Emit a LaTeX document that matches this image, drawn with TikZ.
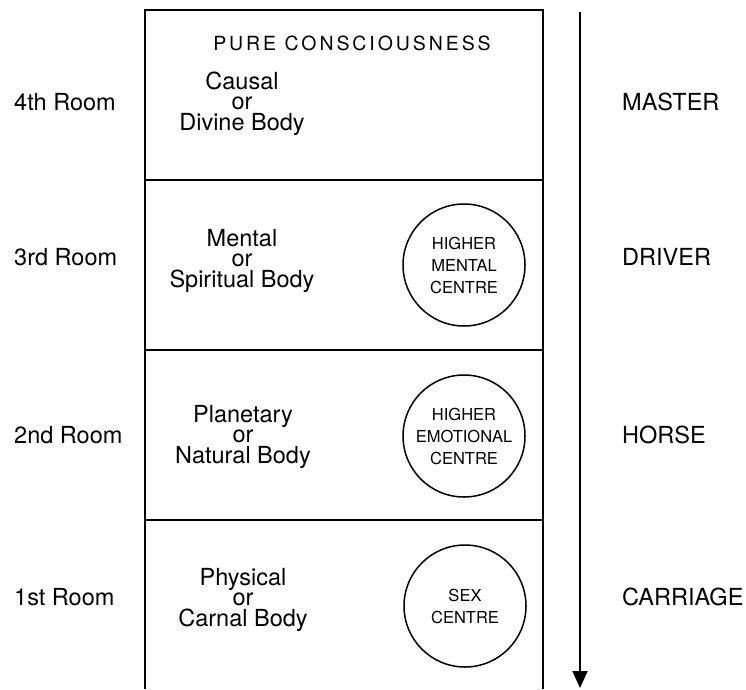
\documentclass[tikz,border=0pt]{standalone}
\usepackage{fontspec}
\setmainfont{TeX Gyre Heros}
\usetikzlibrary{arrows.meta,
                positioning}

\begin{document}
\begin{tikzpicture}[
    x=1pt, y=-1pt,
        wall/.style = {line width=1.8pt},
        body/.style = {align=center, anchor=base, inner sep=0pt,
                    font=\fontsize{23.5}{20.5}\selectfont},
        room/.style = {anchor=base west, inner sep=0pt,
                    font=\fontsize{23.5}{28}\selectfont},
        role/.style = {room},
        centre/.style = {draw, circle, line width=1.5pt, minimum size=122pt,
                    inner sep=0pt, align=center,
                    font=\fontsize{16.5}{22}\selectfont},
        arrows=-{Triangle[width=15pt,length=17pt]}
        ]
    \useasboundingbox (0,0) rectangle (746,689);

    % the house: open at the bottom
    \draw[wall, -] (145,689) -- (145,10) -- (543,10) -- (543,689);
    \foreach \y in {180,350,520}
        \draw[wall, -] (145,\y) -- (543,\y);

    % Row 1
    \node[room] (room-4) at (14,110) {4th Room};
    \node[anchor=base, inner sep=0pt,
          font=\fontsize{19.5}{22}\selectfont\addfontfeatures{LetterSpace=15}]
          (pure) at (352,50) {PURE CONSCIOUSNESS};
    \node[body] (causal) at (242,130) {Causal\\or\\Divine Body};
    \node[role] (master) at (622,110) {MASTER};
    % Row 2
    \node[room] (room-3) at (14,265) {3rd Room};
    \node[body] (mental) at (242,287) {Mental\\or\\Spiritual Body};
    \node[centre] (hmc) at (464,265) {HIGHER\\MENTAL\\CENTRE};
    \node[role] (driver) at (622,265) {DRIVER};
    % Row 3
    \node[room] (room-2) at (14,443) {2nd Room};
    \node[body] (planetary) at (243,463) {Planetary\\or\\Natural Body};
    \node[centre] (hec) at (464,436) {HIGHER\\EMOTIONAL\\CENTRE};
    \node[role] (horse) at (622,443) {HORSE};
    % Row 4
    \node[room] (room-1) at (14,605) {1st Room};
    \node[body] (physical) at (243,626) {Physical\\or\\Carnal Body};
    \node[centre] (sex) at (465,606) {SEX\\CENTRE};
    \node[role] (carriage) at (622,605) {CARRIAGE};

    % the way down, from master to carriage
    \coordinate (down-top) at (580,12);
    \coordinate (down-end) at (580,688);
    \draw[wall] (down-top) -- (down-end);

\end{tikzpicture}
\end{document}
